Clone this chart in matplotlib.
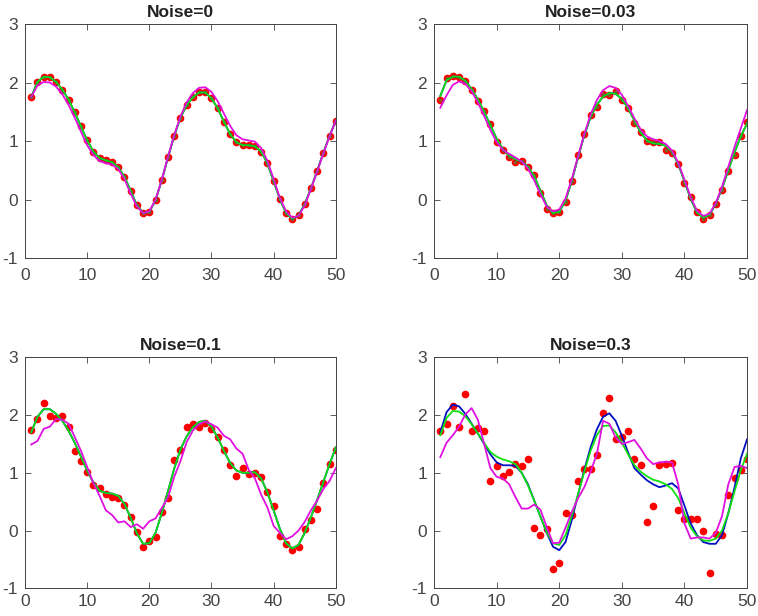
import numpy as np
import matplotlib
matplotlib.use("Agg")
import matplotlib.pyplot as plt

plt.rcParams['font.family'] = ['Liberation Sans', 'DejaVu Sans']
plt.rcParams['axes.unicode_minus'] = False

x = np.arange(1, 51)

titres = ["Noise=0", "Noise=0.03", "Noise=0.1", "Noise=0.3"]

# points mesures (rouge)
pts0 = [1.75, 2.01, 2.10, 2.09, 2.01, 1.88, 1.71, 1.49, 1.25, 1.01,
        0.82, 0.71, 0.67, 0.64, 0.55, 0.39, 0.15, -0.10, -0.23, -0.21,
        -0.01, 0.33, 0.72, 1.09, 1.40, 1.61, 1.75, 1.83, 1.83, 1.73,
        1.56, 1.33, 1.12, 0.98, 0.93, 0.93, 0.91, 0.82, 0.62, 0.31,
        0.01, -0.23, -0.33, -0.27, -0.08, 0.19, 0.49, 0.80, 1.09, 1.35]
pts1 = [1.71, 2.07, 2.11, 2.09, 2.03, 1.88, 1.69, 1.52, 1.29, 0.98,
        0.84, 0.73, 0.65, 0.66, 0.55, 0.42, 0.12, -0.16, -0.23, -0.22,
        -0.04, 0.32, 0.76, 1.12, 1.44, 1.58, 1.81, 1.79, 1.85, 1.71,
        1.57, 1.31, 1.16, 1.00, 0.99, 0.99, 0.85, 0.80, 0.60, 0.29,
        0.04, -0.21, -0.33, -0.27, -0.07, 0.17, 0.49, 0.77, 1.08, 1.32]
pts2 = [1.74, 1.93, 2.21, 1.98, 1.95, 1.99, 1.79, 1.38, 1.21, 1.01,
        0.78, 0.73, 0.63, 0.58, 0.57, 0.45, 0.23, -0.02, -0.29, -0.18,
        -0.12, 0.32, 0.57, 1.22, 1.40, 1.79, 1.85, 1.79, 1.86, 1.75,
        1.62, 1.40, 1.14, 0.94, 1.09, 0.98, 0.99, 0.93, 0.66, 0.42,
        -0.10, -0.23, -0.33, -0.28, 0.03, 0.18, 0.38, 0.83, 1.15, 1.39]
pts3 = [1.73, 1.85, 2.16, 1.80, 2.36, 1.73, 1.77, 1.73, 0.86, 1.11,
        0.94, 1.01, 1.15, 1.11, 1.24, 0.04, -0.07, 0.03, -0.66, -0.57,
        0.31, 0.27, 0.85, 1.06, 1.06, 1.30, 2.03, 2.29, 1.59, 1.62,
        1.73, 1.23, 1.14, 0.15, 0.43, 1.13, 1.16, 1.17, 0.36, 0.20,
        0.20, 0.20, 0.00, -0.73, -0.06, -0.07, 0.61, 0.91, 1.05, 1.23]

# courbe verte
vert0 = pts0
vert1 = [1.77, 2.04, 2.10, 2.10, 2.03, 1.89, 1.71, 1.50, 1.27, 1.04,
         0.86, 0.75, 0.69, 0.65, 0.56, 0.40, 0.15, -0.10, -0.23, -0.21,
         -0.02, 0.32, 0.72, 1.10, 1.41, 1.62, 1.76, 1.82, 1.81, 1.72,
         1.56, 1.35, 1.15, 1.01, 0.96, 0.95, 0.92, 0.82, 0.61, 0.31,
         0.01, -0.22, -0.31, -0.26, -0.07, 0.19, 0.50, 0.81, 1.08, 1.30]
vert2 = [1.70, 1.97, 2.10, 2.10, 2.02, 1.90, 1.73, 1.52, 1.28, 1.04,
         0.83, 0.69, 0.65, 0.64, 0.60, 0.46, 0.22, -0.05, -0.23, -0.22,
         -0.04, 0.30, 0.68, 1.07, 1.40, 1.63, 1.79, 1.88, 1.90, 1.80,
         1.61, 1.38, 1.17, 1.04, 1.00, 1.00, 1.01, 0.90, 0.66, 0.35,
         0.03, -0.22, -0.31, -0.25, -0.04, 0.23, 0.53, 0.84, 1.15, 1.44]
vert3 = [1.65, 1.95, 2.07, 2.06, 1.98, 1.84, 1.68, 1.52, 1.36, 1.28,
         1.23, 1.20, 1.15, 1.00, 0.78, 0.52, 0.24, -0.03, -0.22, -0.25,
         -0.08, 0.25, 0.63, 1.02, 1.38, 1.65, 1.81, 1.82, 1.70, 1.52,
         1.32, 1.13, 1.02, 0.94, 0.88, 0.85, 0.80, 0.72, 0.56, 0.30,
         0.05, -0.10, -0.17, -0.18, -0.14, 0.00, 0.30, 0.68, 1.05, 1.33]

# courbe bleue (visible seulement pour Noise=0.3)
bleu3 = [1.70, 2.05, 2.18, 2.15, 2.02, 1.85, 1.68, 1.50, 1.32, 1.18,
         1.13, 1.13, 1.12, 1.00, 0.80, 0.52, 0.24, -0.04, -0.28, -0.34,
         -0.20, 0.18, 0.62, 1.05, 1.44, 1.75, 1.97, 2.03, 1.90, 1.64,
         1.35, 1.08, 0.97, 0.87, 0.80, 0.75, 0.78, 0.82, 0.73, 0.43,
         0.12, -0.08, -0.20, -0.23, -0.23, -0.08, 0.30, 0.75, 1.25, 1.58]

# courbe magenta
mag0 = [1.75, 1.95, 2.01, 2.00, 1.93, 1.80, 1.62, 1.40, 1.16, 0.93,
        0.76, 0.66, 0.62, 0.60, 0.52, 0.35, 0.10, -0.12, -0.23, -0.20,
        0.00, 0.34, 0.73, 1.10, 1.42, 1.66, 1.82, 1.91, 1.92, 1.84,
        1.68, 1.47, 1.26, 1.10, 1.03, 1.01, 0.99, 0.88, 0.66, 0.35,
        0.03, -0.20, -0.31, -0.28, -0.10, 0.18, 0.48, 0.79, 1.08, 1.35]
mag1 = [1.57, 1.78, 1.96, 2.02, 1.98, 1.85, 1.66, 1.43, 1.19, 0.98,
        0.85, 0.78, 0.72, 0.65, 0.53, 0.33, 0.09, -0.12, -0.20, -0.17,
        0.02, 0.35, 0.74, 1.12, 1.45, 1.70, 1.87, 1.94, 1.91, 1.79,
        1.60, 1.39, 1.20, 1.08, 1.03, 1.00, 0.95, 0.84, 0.63, 0.34,
        0.04, -0.19, -0.28, -0.24, -0.06, 0.22, 0.56, 0.90, 1.22, 1.53]
mag2 = [1.49, 1.55, 1.76, 1.80, 1.93, 1.92, 1.85, 1.62, 1.38, 1.10,
        0.82, 0.60, 0.35, 0.27, 0.14, 0.16, 0.06, 0.11, 0.03, 0.16,
        0.21, 0.39, 0.57, 0.93, 1.20, 1.53, 1.73, 1.84, 1.89, 1.84,
        1.78, 1.64, 1.58, 1.42, 1.33, 1.05, 0.90, 0.62, 0.40, 0.08,
        -0.04, -0.15, -0.10, 0.00, 0.15, 0.35, 0.52, 0.72, 0.86, 1.08]
mag3 = [1.27, 1.52, 1.65, 1.80, 2.01, 2.12, 1.92, 1.50, 1.08, 0.93,
        0.90, 0.80, 0.58, 0.38, 0.38, 0.45, 0.36, 0.06, -0.22, -0.21,
        0.05, 0.32, 0.56, 0.75, 1.02, 1.32, 1.90, 1.85, 1.61, 1.50,
        1.53, 1.57, 1.42, 1.25, 1.15, 1.18, 1.19, 1.18, 0.80, 0.12,
        -0.14, -0.12, -0.12, -0.14, -0.04, 0.25, 0.80, 1.10, 1.12, 1.08]

points = [pts0, pts1, pts2, pts3]
verts = [vert0, vert1, vert2, vert3]
bleus = [vert0, vert1, vert2, bleu3]
mags = [mag0, mag1, mag2, mag3]

fig = plt.figure(figsize=(7.58, 6.16), dpi=100)
positions = [[0.033, 0.581, 0.410, 0.380],
             [0.5726, 0.581, 0.413, 0.380],
             [0.033, 0.045, 0.410, 0.375],
             [0.5726, 0.045, 0.413, 0.375]]

for i in range(4):
    ax = fig.add_axes(positions[i])
    ax.plot(x, points[i], '.', color='#ff0000', markersize=9, zorder=2)
    if i < 2:
        # centres sombres des points
        ax.plot(x, points[i], '.', color='#8a5a20', markersize=3.5, zorder=2.5)
    ax.plot(x, bleus[i], color='#0010c0', linewidth=1.3, zorder=3)
    ax.plot(x, verts[i], color='#10e010', linewidth=1.3, zorder=4)
    ax.plot(x, mags[i], color='#e010e0', linewidth=1.3, zorder=5)

    ax.set_xlim(0, 50)
    ax.set_ylim(-1, 3)
    ax.set_xticks([0, 10, 20, 30, 40, 50])
    ax.set_yticks([-1, 0, 1, 2, 3])
    ax.tick_params(direction='in', top=True, right=True, length=4,
                   width=0.6, colors='#444444', labelsize=12.5)
    ax.tick_params(axis='x', pad=7 if i < 2 else 4)
    ax.tick_params(axis='y', pad=5)
    for s in ax.spines.values():
        s.set_color('#444444')
        s.set_linewidth(0.7)
    ax.set_title(titres[i], fontsize=12.5, fontweight='bold', color='#222222', pad=5)

fig.savefig('out.png', dpi=100)
